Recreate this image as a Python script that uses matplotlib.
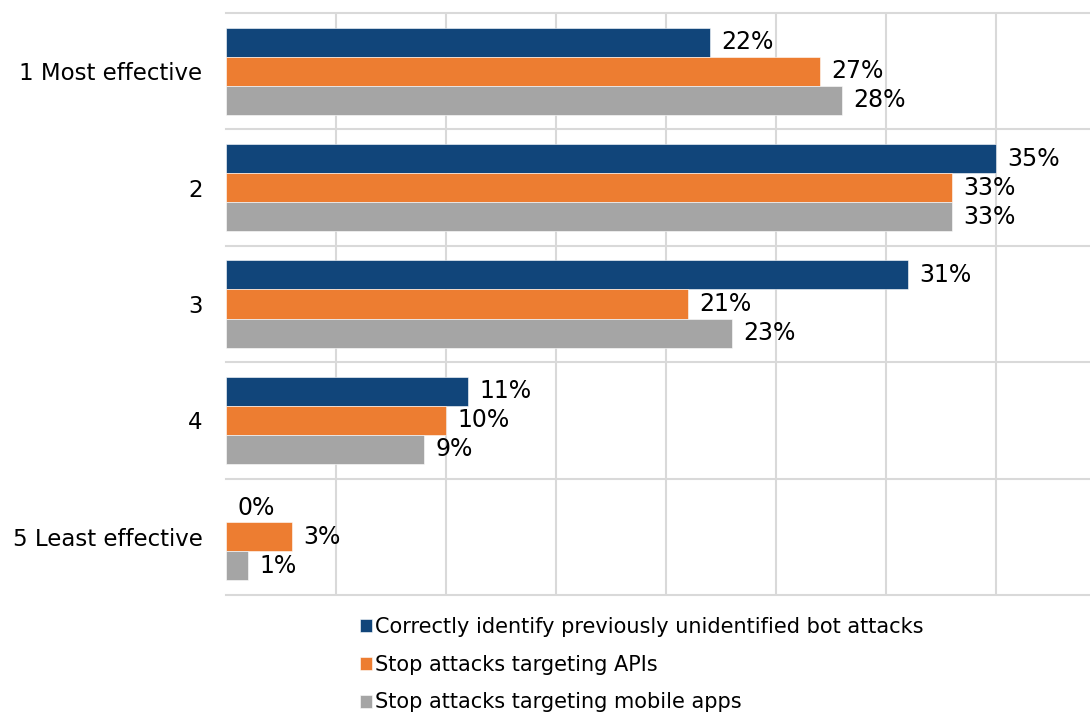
import matplotlib.pyplot as plt
import numpy as np

# survey data (percent of respondents)
categories = ['1 Most effective', '2', '3', '4', '5 Least effective']
series = ['Correctly identify previously unidentified bot attacks',
          'Stop attacks targeting APIs',
          'Stop attacks targeting mobile apps']
bot_attacks = [22, 35, 31, 11, 0]
apis = [27, 33, 21, 10, 3]
mobile_apps = [28, 33, 23, 9, 1]
colors = ['#11457a', '#ed7d31', '#a5a5a5']

plt.rcParams['font.family'] = ['DejaVu Sans']

fig = plt.figure(figsize=(10.9, 7.15), dpi=100)
ax = fig.add_axes([226 / 1090, 1 - 595 / 715, 1 - 226 / 1090, (595 - 13) / 715])

y = np.arange(len(categories))
h = 0.25
for i, (vals, name) in enumerate(zip([bot_attacks, apis, mobile_apps], series)):
    pos = y + (i - 1) * h
    ax.barh(pos, vals, height=h, color=colors[i], label=name,
            edgecolor='white', linewidth=0.4)
    for p, v in zip(pos, vals):
        ax.annotate(f'{v}%', (v, p), xytext=(8, 0), textcoords='offset points',
                    va='center', ha='left', fontsize=17)

ax.set_ylim(len(categories) - 0.5, -0.5)
ax.set_xlim(0, (1090 - 226) / 22)
ax.set_yticks(y)
ax.set_yticklabels(categories, fontsize=16.5)
ax.tick_params(axis='y', length=0, pad=17)
ax.set_xticks(np.arange(5, 40, 5))
ax.tick_params(axis='x', length=0, labelbottom=False)
ax.grid(axis='x', color='#d9d9d9', linewidth=1.5)
ax.set_axisbelow(True)
for k in range(len(categories) + 1):
    ax.axhline(k - 0.5, color='#d9d9d9', linewidth=1.5, clip_on=False, zorder=0)
for s in ax.spines.values():
    s.set_visible(False)

fig.legend(loc='upper left', bbox_to_anchor=(360 / 1090, 1 - 617 / 715),
           frameon=False, fontsize=15, handlelength=0.58, handleheight=0.58,
           handletextpad=0.15, labelspacing=0.85, borderaxespad=0, borderpad=0)

fig.savefig('out.png', dpi=100)
